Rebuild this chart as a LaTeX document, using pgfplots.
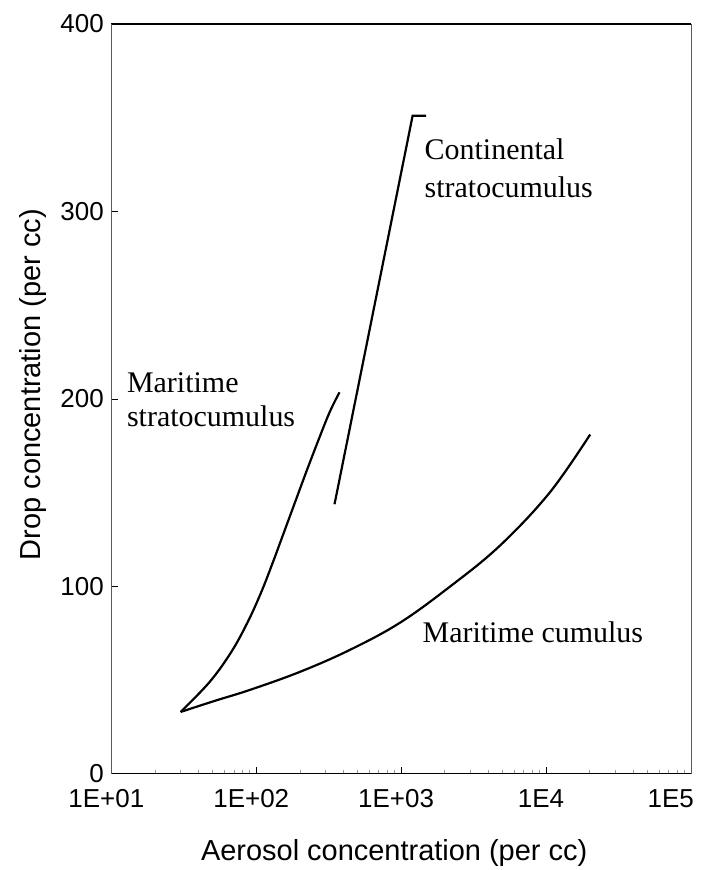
\documentclass[border=0pt]{standalone}
\usepackage{pgfplots}
\pgfplotsset{compat=1.18}
\usepackage{fontspec}
\setmainfont{Liberation Serif}
\newfontfamily\arialfont{Liberation Sans}

% Drop concentration against aerosol concentration for three cloud types
\pgfplotstableread{
x      y
30.1   33.0
47.7   49.0
67.3   65.0
87.4   81.0
108.3  96.9
130.4  112.9
155.5  128.9
185.4  144.9
221.1  160.9
265.0  176.8
320.6  192.8
375.7  203.5
}\maritimestrat

\pgfplotstableread{
x      y
347    143.8
1200   351.0
1490   351.0
}\continental

\pgfplotstableread{
x      y
30.1   33.0
51.7   38.9
90.0   44.7
199.1  54.3
440.3  66.0
973.4  80.4
2152   99.6
4759   121.4
10522  149.7
20170  181.0
}\maritimecu

\begin{document}
\begin{tikzpicture}
\begin{axis}[
  scale only axis,
  width=580.5pt, height=751pt,
  xmode=log, log basis x=10,
  xmin=10, xmax=100000, ymin=0, ymax=400,
  separate axis lines,
  every outer x axis line/.append style={line width=1.4pt, black},
  every outer y axis line/.append style={line width=0.7pt, black!65},
  tick pos=left,
  tick align=inside,
  xtick={10,100,1000,10000,100000},
  xticklabels={1E+01,1E+02,1E+03,1E4,\makebox[0pt][r]{1E5\kern-8pt}},
  minor xtick={20,30,40,50,60,70,80,90,200,300,400,500,600,700,800,900,
               2000,3000,4000,5000,6000,7000,8000,9000,
               20000,30000,40000,50000,60000,70000,80000,90000},
  ytick={0,100,200,300,400},
  yticklabels={0,100,200,300,400},
  major tick length=7pt, minor tick length=4pt,
  every major tick/.append style={line width=0.7pt, black},
  every minor tick/.append style={line width=0.5pt, black!40},
  xticklabel style={font=\arialfont\fontsize{26}{30}\selectfont, xshift=-5pt, yshift=-12pt},
  yticklabel style={font=\arialfont\fontsize{26}{30}\selectfont, xshift=-4pt},
  xlabel={Aerosol concentration (per cc)},
  ylabel={Drop concentration (per cc)},
  xlabel style={font=\arialfont\fontsize{29}{34}\selectfont,
    at={([yshift=-87pt]axis description cs:0.488,0)}, anchor=base},
  ylabel style={font=\arialfont\fontsize{29}{34}\selectfont,
    at={([xshift=-71pt]axis description cs:0,0.519)}, anchor=base, rotate=0},
  clip=false,
  every axis plot/.append style={line width=2.2pt, black, line join=round},
]
\addplot[smooth, tension=0.6] table[x=x, y=y] {\maritimestrat};
\addplot[sharp plot, line join=miter] table[x=x, y=y] {\continental};
\addplot[smooth, tension=0.6] table[x=x, y=y] {\maritimecu};

\node[anchor=base west, font=\fontsize{30}{36}\selectfont, inner sep=0pt]
  at (axis cs:1450,327.6) {Continental};
\node[anchor=base west, font=\fontsize{30}{36}\selectfont, inner sep=0pt]
  at (axis cs:1450,307.4) {stratocumulus};
\node[anchor=base west, font=\fontsize{30}{36}\selectfont, inner sep=0pt]
  at (axis cs:12.8,203.5) {Maritime};
\node[anchor=base west, font=\fontsize{30}{36}\selectfont, inner sep=0pt]
  at (axis cs:12.8,185.5) {stratocumulus};
\node[anchor=base west, font=\fontsize{30}{36}\selectfont, inner sep=0pt]
  at (axis cs:1403,70.3) {Maritime cumulus};
\end{axis}
\path[use as bounding box]
  ([xshift=-111.5pt,yshift=-95pt]current axis.south west)
  rectangle ([xshift=26pt,yshift=24pt]current axis.north east);
\end{tikzpicture}
\end{document}
